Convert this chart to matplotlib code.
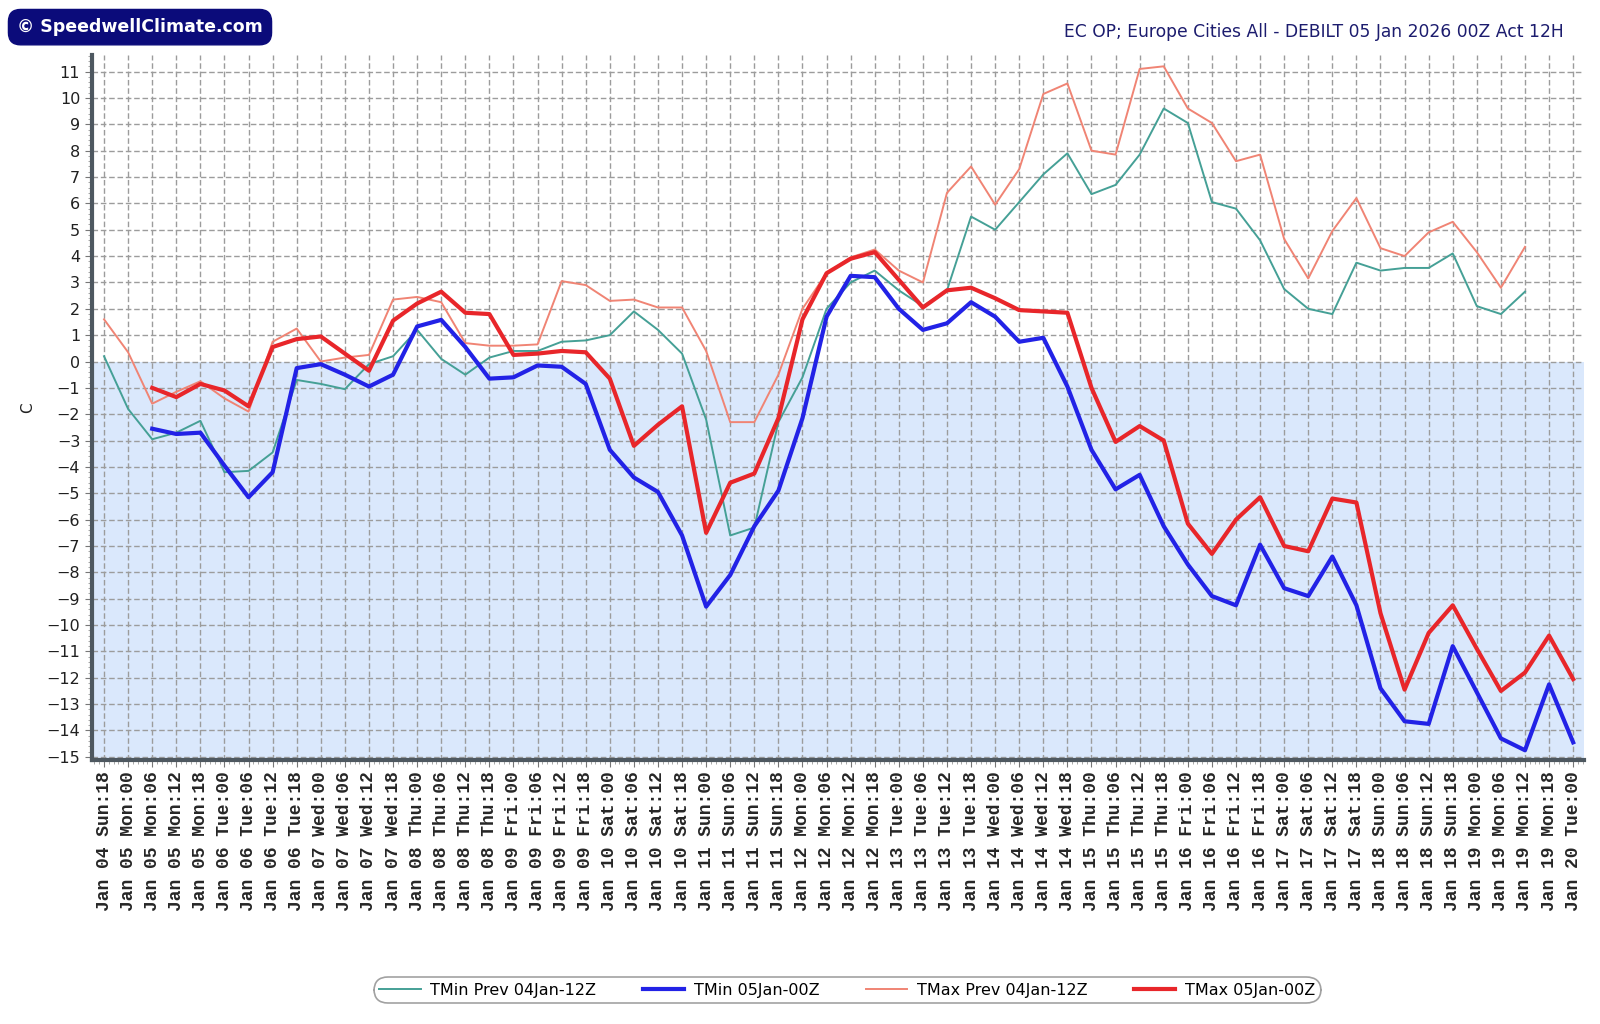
import matplotlib

matplotlib.use("Agg")

import matplotlib.pyplot as plt
import numpy as np
from matplotlib.ticker import AutoMinorLocator

nan = np.nan

# 6-hourly steps, Jan 04 18Z .. Jan 20 00Z
DAYS = [
    "Jan 04 Sun", "Jan 05 Mon", "Jan 06 Tue", "Jan 07 Wed", "Jan 08 Thu",
    "Jan 09 Fri", "Jan 10 Sat", "Jan 11 Sun", "Jan 12 Mon", "Jan 13 Tue",
    "Jan 14 Wed", "Jan 15 Thu", "Jan 16 Fri", "Jan 17 Sat", "Jan 18 Sun",
    "Jan 19 Mon", "Jan 20 Tue",
]
HOURS = ["00", "06", "12", "18"]
TICK_LABELS = (
    [f"{DAYS[0]}:18"]
    + [f"{d}:{h}" for d in DAYS[1:-1] for h in HOURS]
    + [f"{DAYS[-1]}:00"]
)

TMIN_PREV = [
    0.2, -1.8, -2.95, -2.7, -2.25, -4.2, -4.15, -3.45, -0.7, -0.85,
    -1.05, -0.1, 0.2, 1.2, 0.1, -0.5, 0.15, 0.4, 0.4, 0.75,
    0.8, 1.0, 1.9, 1.2, 0.3, -2.2, -6.6, -6.3, -2.3, -0.6,
    2.0, 3.0, 3.45, 2.7, 2.1, 2.7, 5.5, 5.0, 6.05, 7.1,
    7.9, 6.35, 6.7, 7.85, 9.6, 9.05, 6.05, 5.8, 4.6, 2.75,
    2.0, 1.8, 3.75, 3.45, 3.55, 3.55, 4.1, 2.1, 1.8, 2.65,
    nan, nan,
]
TMIN_NEW = [
    nan, nan, -2.55, -2.75, -2.7, -3.95, -5.15, -4.2, -0.25, -0.1,
    -0.5, -0.95, -0.5, 1.33, 1.58, 0.55, -0.65, -0.6, -0.15, -0.2,
    -0.85, -3.35, -4.4, -4.95, -6.6, -9.3, -8.1, -6.25, -4.9, -2.15,
    1.7, 3.25, 3.2, 2.0, 1.2, 1.45, 2.25, 1.7, 0.75, 0.9,
    -0.95, -3.35, -4.85, -4.3, -6.25, -7.7, -8.9, -9.25, -6.95, -8.6,
    -8.9, -7.4, -9.25, -12.4, -13.65, -13.75, -10.8, -12.55, -14.3, -14.75,
    -12.25, -14.45,
]
TMAX_PREV = [
    1.6, 0.35, -1.6, -1.15, -0.75, -1.4, -1.9, 0.75, 1.25, 0.0,
    0.15, 0.25, 2.35, 2.45, 2.25, 0.7, 0.6, 0.6, 0.65, 3.05,
    2.9, 2.3, 2.35, 2.05, 2.05, 0.4, -2.3, -2.3, -0.5, 2.0,
    3.35, 3.95, 4.25, 3.45, 3.0, 6.4, 7.4, 5.95, 7.3, 10.15,
    10.55, 8.0, 7.85, 11.1, 11.2, 9.6, 9.05, 7.6, 7.85, 4.65,
    3.15, 4.95, 6.2, 4.3, 4.0, 4.9, 5.3, 4.15, 2.8, 4.35,
    nan, nan,
]
TMAX_NEW = [
    nan, nan, -1.0, -1.35, -0.85, -1.1, -1.7, 0.55, 0.85, 0.95,
    0.3, -0.35, 1.55, 2.2, 2.65, 1.85, 1.8, 0.25, 0.3, 0.4,
    0.35, -0.65, -3.2, -2.4, -1.7, -6.5, -4.6, -4.25, -2.15, 1.6,
    3.35, 3.9, 4.15, 3.1, 2.05, 2.7, 2.8, 2.4, 1.95, 1.9,
    1.85, -1.0, -3.05, -2.45, -3.0, -6.15, -7.3, -6.0, -5.15, -7.0,
    -7.2, -5.2, -5.35, -9.55, -12.45, -10.3, -9.25, -10.9, -12.5, -11.8,
    -10.4, -12.05,
]

x = np.arange(len(TICK_LABELS))
YMIN, YMAX = -15.12, 11.63

fig = plt.figure(figsize=(16, 10.24), dpi=100)
fig.set_facecolor("white")
ax = fig.add_axes([0.0575, 0.2578, 0.9325, 0.6885])
ax.set_facecolor("white")

ax.axhspan(YMIN, 0, color="#dae8fc", zorder=0, linewidth=0)

ax.plot(x, TMIN_PREV, color="#45a096", lw=1.4, label="TMin Prev 04Jan-12Z", zorder=3)
ax.plot(x, TMIN_NEW, color="#2222e6", lw=3.0, label="TMin 05Jan-00Z", zorder=4)
ax.plot(x, TMAX_PREV, color="#f08474", lw=1.4, label="TMax Prev 04Jan-12Z", zorder=3)
ax.plot(x, TMAX_NEW, color="#e8262a", lw=3.0, label="TMax 05Jan-00Z", zorder=4)

ax.set_xlim(-0.5, 61.45)
ax.set_ylim(YMIN, YMAX)

ax.set_xticks(x)
ax.set_xticklabels(TICK_LABELS, rotation=90, family="Liberation Mono",
                   fontsize=13, color="#262626", fontweight="bold")
ax.set_yticks(range(-15, 12))
ax.tick_params(axis="y", labelsize=11.5, labelcolor="#202020", color="#777777", length=5)
ax.tick_params(axis="x", color="#777777", length=5, pad=3)
ax.xaxis.set_minor_locator(AutoMinorLocator(5))
ax.yaxis.set_minor_locator(AutoMinorLocator(5))
ax.tick_params(which="minor", color="#9a9a9a", length=3)

ax.grid(True, which="major", color="#9c9c9c", linestyle=(0, (4, 2)), linewidth=1.0, zorder=1)
ax.set_axisbelow(True)

for side in ("top", "right"):
    ax.spines[side].set_visible(False)
for side in ("left", "bottom"):
    ax.spines[side].set_color("#4e5860")
    ax.spines[side].set_linewidth(3)

ax.set_ylabel("C", fontsize=11, color="#202020", labelpad=8)

fig.text(0.0875, 0.9735, "\u00a9 SpeedwellClimate.com", color="white", fontsize=12.5,
         fontweight="bold", ha="center", va="center",
         bbox=dict(boxstyle="round,pad=0.5,rounding_size=0.7", fc="#0b0b7a", ec="#0b0b7a"))
fig.text(0.9775, 0.969, "EC OP; Europe Cities All - DEBILT 05 Jan 2026 00Z Act 12H",
         color="#1c1c6e", fontsize=12.3, ha="right", va="center")

leg = fig.legend(loc="center", bbox_to_anchor=(0.5295, 0.0332), ncol=4, fontsize=11.5,
                 frameon=True, handlelength=2.6, columnspacing=2.9, handletextpad=0.6,
                 borderpad=0.35, borderaxespad=0.0)
frame = leg.get_frame()
frame.set_edgecolor("#8a8a8a")
frame.set_linewidth(1.2)
frame.set_boxstyle("round", pad=0.0, rounding_size=0.9)

fig.savefig("out.png", dpi=100, facecolor=fig.get_facecolor())
